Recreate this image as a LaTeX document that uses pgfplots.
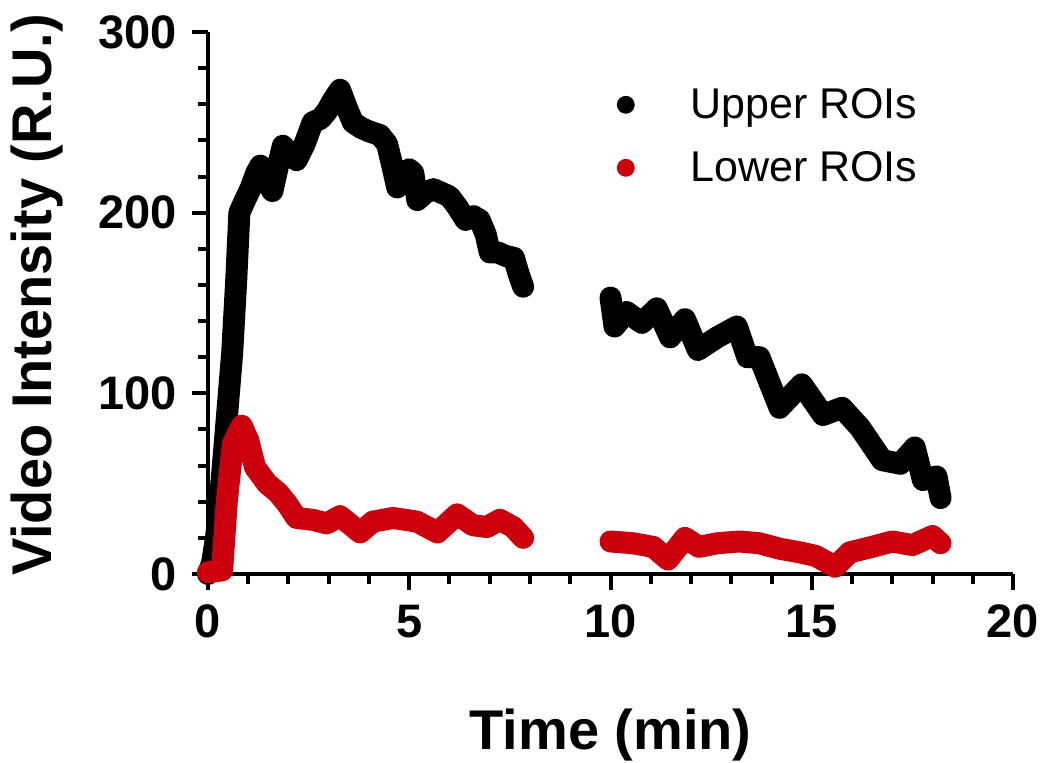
\documentclass[border=0pt]{standalone}
\usepackage{fontspec}
\setmainfont{Liberation Sans}
\usepackage{pgfplots}
\pgfplotsset{compat=1.18}
\definecolor{myred}{RGB}{204,0,12}
\begin{document}
\begin{tikzpicture}
\useasboundingbox (-104pt,-94.5pt) rectangle (421pt,287pt);
\begin{axis}[
  at={(0pt,0pt)}, anchor=south west,
  scale only axis, width=402.5pt, height=271pt,
  xmin=0, xmax=20, ymin=0, ymax=300,
  axis x line=bottom, axis y line=left,
  axis line style={-, line width=2pt},
  xtick={0,5,10,15,20}, ytick={0,100,200,300},
  minor x tick num=4, minor y tick num=4,
  tick align=outside,
  major tick length=8pt, minor tick length=5pt,
  every tick/.style={black, line width=2pt},
  /pgf/number format/assume math mode=true,
  ticklabel style={font=\fontsize{23.5}{23.5}\selectfont\bfseries},
  xticklabel style={yshift=-4pt},
  yticklabel style={xshift=-4pt},
  xlabel={Time (min)}, ylabel={Video Intensity (R.U.)},
  every axis x label/.style={at={(axis description cs:0.5,0)}, anchor=base, yshift=-88pt, font=\fontsize{28}{28}\selectfont\bfseries},
  every axis y label/.style={at={(axis description cs:0,0.515)}, xshift=-78pt, rotate=90, anchor=base, font=\fontsize{28}{28}\selectfont\bfseries},
  clip=false,
  legend style={draw=none, fill=none, at={(axis cs:10.0,273.5)}, anchor=north west,
    font=\fontsize{21.5}{21.5}\selectfont, row sep=11pt},
  legend cell align=left,
]
\addplot[black, line width=11pt, line join=round, line cap=round, forget plot] coordinates {
(0,0) (0.1,6) (0.2,20) (0.3,42) (0.4,68) (0.5,95) (0.6,122) (0.7,162) (0.78,200)
(0.9,206) (1.05,213) (1.2,222) (1.3,226) (1.45,218) (1.6,212) (1.72,224) (1.86,237)
(2.0,233) (2.2,229) (2.4,238) (2.6,250) (2.8,252) (2.95,256) (3.1,262) (3.28,268)
(3.45,258) (3.6,250) (3.8,247) (4.0,245) (4.27,243) (4.45,238) (4.58,226) (4.7,214)
(4.85,218) (5.0,224) (5.1,222) (5.2,207) (5.4,211) (5.6,213) (5.8,211) (6.0,209)
(6.2,203) (6.4,196) (6.6,198) (6.75,196) (6.9,188) (7.0,178) (7.2,178) (7.4,176)
(7.6,175) (7.72,166) (7.83,159)
};
\addplot[black, line width=11pt, line join=round, line cap=round, forget plot] coordinates {
(10.0,153) (10.1,137) (10.4,145) (10.78,139) (11.15,147) (11.48,131) (11.85,141)
(12.17,124) (12.65,131) (13.14,137) (13.4,120) (13.7,120) (14.2,92) (14.75,105)
(15.28,88) (15.75,92) (16.2,81) (16.75,63) (17.2,61) (17.56,70) (17.76,52)
(18.1,54) (18.2,42)
};
\addplot[myred, line width=11pt, line join=round, line cap=round, forget plot] coordinates {
(0,1) (0.35,2) (0.47,41) (0.62,72) (0.84,82) (1.0,74) (1.17,59) (1.47,50) (1.74,45)
(1.96,39) (2.2,31) (2.6,30) (2.95,28) (3.28,32) (3.78,23) (4.1,29) (4.6,31)
(5.19,29) (5.7,23) (6.19,33) (6.58,27) (6.93,26) (7.25,30) (7.58,26) (7.83,20)
};
\addplot[myred, line width=11pt, line join=round, line cap=round, forget plot] coordinates {
(10.0,18) (10.56,17) (11.06,15) (11.43,8) (11.85,20) (12.2,15) (12.65,17) (13.2,18)
(13.7,17) (14.2,14) (14.7,12) (15.1,10) (15.58,4) (15.95,12) (16.5,15) (17.0,18)
(17.5,16) (18.0,21) (18.2,17)
};
\addlegendimage{black, legend image code/.code={\fill[black] (0.3cm,0pt) circle (4.25pt); \path[draw=none] (0.3cm,0pt) -- ++(30.25pt,0pt);}}
\addlegendentry{Upper ROIs}
\addlegendimage{myred, legend image code/.code={\fill[myred] (0.3cm,0pt) circle (4.25pt); \path[draw=none] (0.3cm,0pt) -- ++(30.25pt,0pt);}}
\addlegendentry{Lower ROIs}
\end{axis}
\end{tikzpicture}
\end{document}
